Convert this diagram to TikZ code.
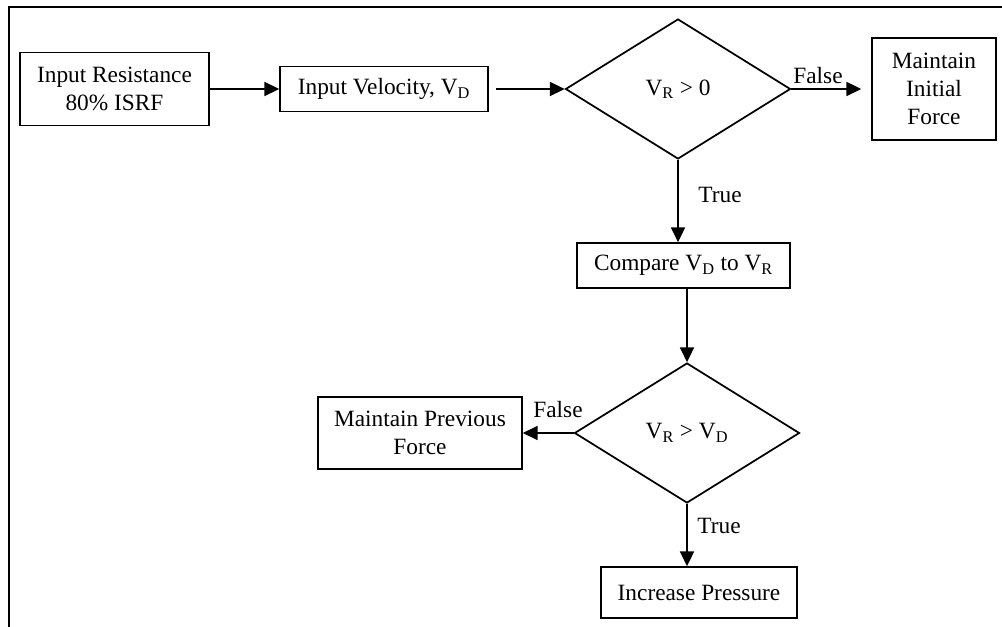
\documentclass[tikz,border=0pt]{standalone}
\usepackage{fontspec}
\setmainfont{Liberation Serif}
\usetikzlibrary{shapes.geometric,arrows.meta}
\begin{document}
\begin{tikzpicture}[x=0.75pt,y=-0.75pt,
  every node/.style={font=\fontsize{17.5}{21}\selectfont},
  box/.style={draw,line width=1.3pt,rectangle,inner sep=0pt,align=center},
  dec/.style={draw,line width=1.3pt,diamond,inner sep=0pt,minimum width=168.75pt,minimum height=105pt},
  lbl/.style={inner sep=0pt},
  arr/.style={line width=1.3pt,-{Triangle[length=11pt,width=10.5pt]}},
  frame/.style={line width=1.6pt}]
\useasboundingbox (0,0) rectangle (1002,627);
\coordinate (fb) at (9,627);
\coordinate (fc) at (9,7);
\coordinate (fr) at (1002,7);
\draw[frame] (fb) -- (fc) -- (fr);

\node[box,minimum width=141.75pt,minimum height=54.75pt] (b1) at (114.5,89) {Input Resistance\\80\% ISRF};
\node[box,minimum width=156pt,minimum height=33.75pt] (b2) at (384,89) {Input Velocity, V\textsubscript{D}};
\node[dec] (d1) at (678,89) {V\textsubscript{R} > 0};
\node[box,minimum width=93pt,minimum height=76.5pt] (b3) at (934,89) {Maintain\\Initial\\Force};
\node[box,minimum width=159.75pt,minimum height=33.75pt] (b4) at (683.5,265.5) {Compare V\textsubscript{D} to V\textsubscript{R}};
\node[dec] (d2) at (687,433) {V\textsubscript{R} > V\textsubscript{D}};
\node[box,minimum width=153pt,minimum height=54pt] (b5) at (420,433) {Maintain Previous\\Force};
\node[box,minimum width=147pt,minimum height=38.25pt] (b6) at (699,592.5) {Increase Pressure};

\draw[arr] (b1.east) -- (b2.west);
\draw[arr] (b2.east) ++(7,0) coordinate (s2) (s2) -- (d1.west);
\draw[arr] (d1.east) -- ([xshift=-7.5pt]b3.west);
\draw[arr] (d1.south) -- (d1.south |- b4.north);
\draw[arr] (d2.north |- b4.south) -- (d2.north);
\draw[arr] (d2.west) -- (b5.east);
\draw[arr] (d2.south) -- (d2.south |- b6.north);

\node[lbl] (f1) at (818,76) {False};
\node[lbl] (t1) at (720,195) {True};
\node[lbl] (f2) at (558,410) {False};
\node[lbl] (t2) at (719,526) {True};
\end{tikzpicture}
\end{document}
